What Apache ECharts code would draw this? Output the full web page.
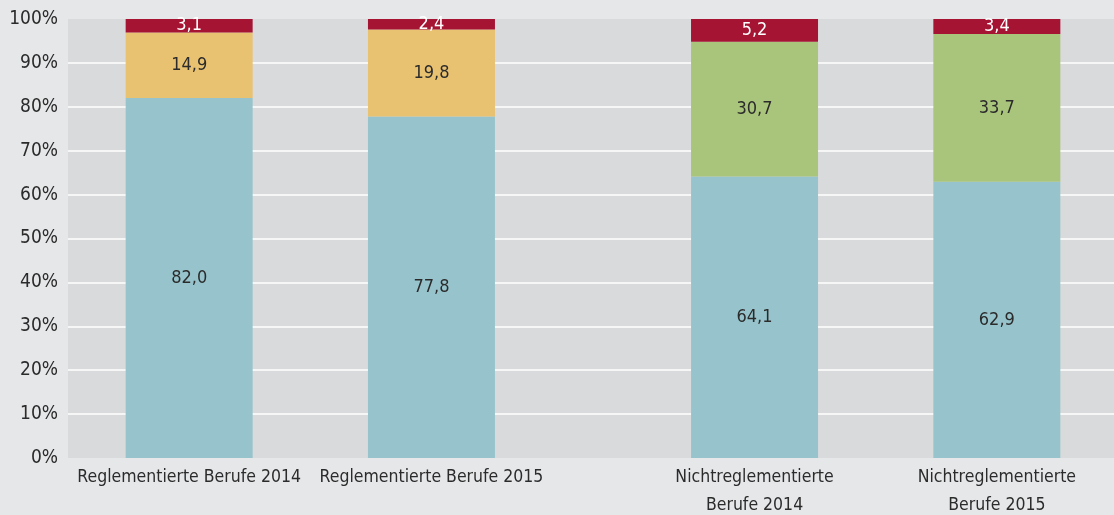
<!DOCTYPE html>
<html>
<head>
<meta charset="utf-8">
<script src="https://cdn.jsdelivr.net/npm/echarts@6/dist/echarts.min.js"></script>
<style>
  html, body { margin: 0; padding: 0; background: #e6e7e9; }
  #chart { width: 1114px; height: 515px; }
</style>
</head>
<body>
<div id="chart"></div>
<script>
// data
const categories = [
  "Reglementierte Berufe 2014",
  "Reglementierte Berufe 2015",
  "Nichtreglementierte\nBerufe 2014",
  "Nichtreglementierte\nBerufe 2015",
];
const volle = [82.0, 77.8, 64.1, 62.9];
const ausgleich = [14.9, 19.8, null, null];
const teilweise = [null, null, 30.7, 33.7];
const keine = [3.1, 2.4, 5.2, 3.4];
const yTicks = [0, 10, 20, 30, 40, 50, 60, 70, 80, 90, 100];

// the bars sit on a 13-slot axis so the gap between both groups comes out right
const slots = [1, 4, 8, 11];
const slotCount = 13;

const axisData = new Array(slotCount).fill("");
slots.forEach((s, i) => (axisData[s] = categories[i]));

const spread = (arr) => {
  const out = new Array(slotCount).fill("-");
  slots.forEach((s, i) => {
    if (arr[i] != null) out[s] = arr[i];
  });
  return out;
};

const fmt = (p) => p.value.toFixed(1).replace(".", ",");
const font = '"Liberation Sans Narrow", "DejaVu Sans Condensed", "Noto Sans", sans-serif';

const mkSeries = (name, arr, color, labelColor) => ({
  name,
  type: "bar",
  stack: "total",
  barWidth: 127,
  data: spread(arr),
  itemStyle: { color },
  label: {
    show: true,
    position: "inside",
    formatter: fmt,
    color: labelColor,
    fontFamily: font,
    fontSize: 18,
  },
  emphasis: { disabled: true },
});

const option = {
  backgroundColor: "#e6e7e9",
  animation: false,
  grid: {
    left: 68,
    right: -4,
    top: 19,
    bottom: 57,
    outerBoundsMode: "none",
    containLabel: false,
    show: true,
    backgroundColor: "#d9dadc",
    borderWidth: 0,
  },
  xAxis: {
    type: "category",
    data: axisData,
    axisLine: { show: false },
    axisTick: { show: false },
    axisLabel: {
      interval: 0,
      margin: 5,
      color: "#2b2b2b",
      fontFamily: font,
      fontSize: 17.5,
      lineHeight: 28,
    },
  },
  yAxis: {
    type: "value",
    min: yTicks[0],
    max: yTicks[yTicks.length - 1],
    interval: 10,
    axisLine: { show: false },
    axisTick: { show: false },
    axisLabel: {
      formatter: "{value}%",
      margin: 10,
      color: "#2b2b2b",
      fontFamily: font,
      fontSize: 19,
    },
    splitLine: {
      showMinLine: false,
      showMaxLine: false,
      lineStyle: { color: "#ffffff", width: 1.5 },
    },
  },
  series: [
    mkSeries("Volle Gleichwertigkeit", volle, "#97c4cc", "#2b2b2b"),
    mkSeries("Auflage einer Ausgleichsmaßnahme", ausgleich, "#e8c171", "#2b2b2b"),
    mkSeries("Teilweise Gleichwertigkeit", teilweise, "#a9c47b", "#2b2b2b"),
    mkSeries("Keine Gleichwertigkeit", keine, "#a51433", "#ffffff"),
  ],
};

const myChart = echarts.init(document.getElementById("chart"));
myChart.setOption(option);
</script>
</body>
</html>
